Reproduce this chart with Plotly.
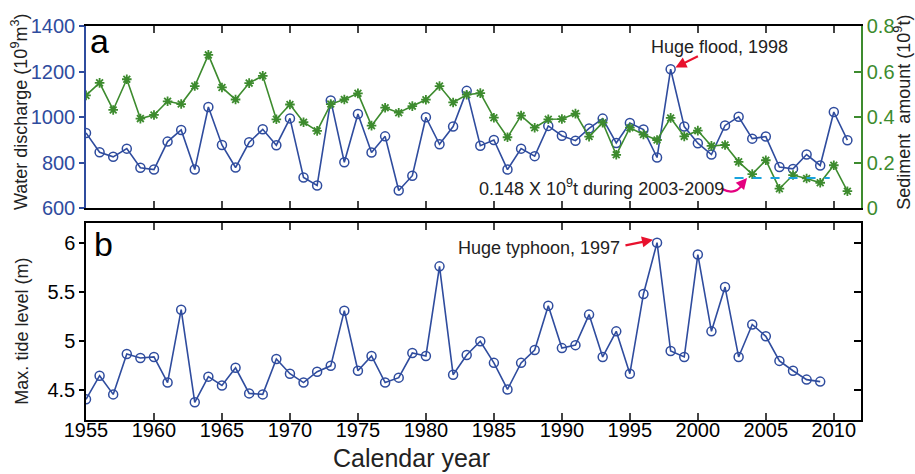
import plotly.graph_objects as go

years_a = list(range(1955, 2012))
discharge = [930, 845, 825, 861, 777, 769, 892, 943, 769, 1044,
             877, 778, 889, 946, 876, 994, 734, 699, 1073, 801,
             1013, 844, 915, 677, 742, 999, 880, 958, 1115, 874,
             899, 769, 861, 828, 961, 918, 896, 950, 993, 886,
             974, 945, 822, 1210, 958, 885, 835, 963, 1001, 905,
             914, 780, 772, 835, 787, 1022, 898]
sediment = [0.495, 0.550, 0.431, 0.566, 0.393, 0.409, 0.469, 0.457, 0.536, 0.673,
            0.530, 0.477, 0.549, 0.581, 0.390, 0.455, 0.377, 0.339, 0.457, 0.477,
            0.504, 0.362, 0.441, 0.419, 0.448, 0.476, 0.536, 0.464, 0.498, 0.505,
            0.397, 0.311, 0.406, 0.353, 0.390, 0.391, 0.415, 0.314, 0.375, 0.234,
            0.353, 0.323, 0.299, 0.396, 0.315, 0.340, 0.273, 0.277, 0.203, 0.149,
            0.210, 0.085, 0.145, 0.130, 0.111, 0.188, 0.074]

years_b = list(range(1955, 2010))
tide = [4.41, 4.65, 4.46, 4.87, 4.83, 4.84, 4.58, 5.32, 4.38, 4.64,
        4.55, 4.73, 4.47, 4.46, 4.82, 4.67, 4.58, 4.69, 4.75, 5.31,
        4.70, 4.85, 4.58, 4.63, 4.88, 4.85, 5.76, 4.66, 4.86, 5.00,
        4.78, 4.51, 4.78, 4.91, 5.36, 4.93, 4.96, 5.27, 4.84, 5.10,
        4.67, 5.48, 6.00, 4.90, 4.84, 5.88, 5.10, 5.55, 4.84, 5.17,
        5.05, 4.80, 4.70, 4.61, 4.59]

mean_years = [2002.7, 2009.7]
mean_level = [0.132, 0.132]

x_ticks = list(range(1955, 2011, 5))
left_a_ticks = [600, 800, 1000, 1200, 1400]
right_a_ticks = [0, 0.2, 0.4, 0.6, 0.8]
right_a_text = ["0", "0.2", "0.4", "0.6", "0.8"]
tide_ticks = [4.5, 5, 5.5, 6]
tide_text = ["4.5", "5", "5.5", "6"]

BLUE = "#2F4C9E"
GREEN = "#3D8B2E"
FONT = "Arial, Liberation Sans, sans-serif"
TICK = 20

fig = go.Figure()
fig.add_trace(go.Scatter(x=years_a, y=discharge, mode="lines+markers",
                         line=dict(color=BLUE, width=1.6),
                         marker=dict(symbol="circle-open", size=9, color=BLUE, line=dict(width=1.5, color=BLUE)),
                         xaxis="x", yaxis="y", showlegend=False))
fig.add_trace(go.Scatter(x=years_a, y=sediment, mode="lines+markers",
                         line=dict(color=GREEN, width=1.6),
                         marker=dict(symbol="asterisk-open", size=8, color=GREEN, line=dict(width=1.8, color=GREEN)),
                         xaxis="x", yaxis="y2", showlegend=False))
fig.add_trace(go.Scatter(x=mean_years, y=mean_level, mode="lines",
                         line=dict(color="#1AA3DD", width=2, dash="dash"),
                         xaxis="x", yaxis="y2", showlegend=False))
fig.add_trace(go.Scatter(x=years_b, y=tide, mode="lines+markers",
                         line=dict(color=BLUE, width=1.6),
                         marker=dict(symbol="circle-open", size=9, color=BLUE, line=dict(width=1.5, color=BLUE)),
                         xaxis="x2", yaxis="y3", showlegend=False))
# invisible trace to activate right axis in panel b
fig.add_trace(go.Scatter(x=[1955], y=[5], mode="markers", marker=dict(opacity=0),
                         xaxis="x2", yaxis="y4", showlegend=False, hoverinfo="skip"))

common_x = dict(range=[1955, 2012], tickvals=x_ticks, ticks="inside", ticklen=7, tickwidth=1.5,
                showline=True, linecolor="black", linewidth=1.5, mirror="ticks",
                showgrid=False, zeroline=False)

fig.update_layout(
    width=915, height=474,
    margin=dict(l=86, r=54, t=26, b=54),
    paper_bgcolor="white", plot_bgcolor="white",
    font=dict(family=FONT, size=TICK, color="black"),
    xaxis=dict(domain=[0, 1], anchor="y", showticklabels=False, **common_x),
    yaxis=dict(domain=[0.538, 1], range=[600, 1400], tickvals=left_a_ticks,
               ticks="outside", ticklen=5, tickwidth=1.5, tickcolor=BLUE,
               showline=True, linecolor=BLUE, linewidth=1.5,
               tickfont=dict(color=BLUE, size=TICK), showgrid=False, zeroline=False),
    yaxis2=dict(overlaying="y", side="right", anchor="x", range=[0, 0.8],
                tickvals=right_a_ticks, ticktext=right_a_text,
                ticks="inside", ticklen=7, tickwidth=1.5, tickcolor=GREEN,
                showline=True, linecolor=GREEN, linewidth=1.5,
                tickfont=dict(color=GREEN, size=TICK), showgrid=False, zeroline=False),
    xaxis2=dict(domain=[0, 1], anchor="y3", tickfont=dict(size=TICK, color="black"),
                ticklabelstandoff=-9, **common_x),
    yaxis3=dict(domain=[0, 0.5], anchor="x2", range=[4.2, 6.2], tickvals=tide_ticks, ticktext=tide_text,
                ticks="outside", ticklen=5, tickwidth=1.5, tickcolor="black",
                showline=True, linecolor="black", linewidth=1.5,
                tickfont=dict(size=TICK, color="black"), showgrid=False, zeroline=False),
    yaxis4=dict(overlaying="y3", side="right", anchor="x2", range=[4.2, 6.2], tickvals=tide_ticks,
                ticks="inside", ticklen=7, tickwidth=1.5, tickcolor="black", showticklabels=False,
                showline=True, linecolor="black", linewidth=1.5, showgrid=False, zeroline=False),
)

ann = []
ann.append(dict(text="a", xref="paper", yref="paper", x=0.018, y=0.962, showarrow=False,
                font=dict(size=34, color="black"), xanchor="center", yanchor="middle"))
ann.append(dict(text="b", xref="paper", yref="paper", x=0.022, y=0.447, showarrow=False,
                font=dict(size=34, color="black"), xanchor="center", yanchor="middle"))
ann.append(dict(text="Water discharge (10<sup>9</sup>m<sup>3</sup>)", xref="paper", yref="paper",
                x=-0.085, y=0.782, textangle=-90, showarrow=False, font=dict(size=18, color="#222"),
                xanchor="center", yanchor="middle"))
ann.append(dict(text="Sediment  amount (10<sup>9</sup>t)", xref="paper", yref="paper",
                x=1.054, y=0.782, textangle=-90, showarrow=False, font=dict(size=18, color="#222"),
                xanchor="center", yanchor="middle"))
ann.append(dict(text="Max. tide level (m)", xref="paper", yref="paper",
                x=-0.083, y=0.226, textangle=-90, showarrow=False, font=dict(size=18, color="#222"),
                xanchor="center", yanchor="middle"))
ann.append(dict(text="Calendar year", xref="paper", yref="paper", x=0.4206, y=-0.0964,
                showarrow=False, font=dict(size=25, color="#222"), xanchor="center", yanchor="middle"))
ann.append(dict(text="Huge flood, 1998", xref="x", yref="y", x=2001.6, y=1308, showarrow=False,
                font=dict(size=18, color="#222"), xanchor="center", yanchor="middle"))
ann.append(dict(text="", xref="x", yref="y", x=1998.35, y=1218, ax=24, ay=-12, showarrow=True,
                arrowhead=2, arrowsize=1, arrowwidth=2.2, arrowcolor="#E8112D"))
ann.append(dict(text="0.148 X 10<sup>9</sup>t during 2003-2009", xref="x", yref="y2", x=1992.9, y=0.092,
                showarrow=False, font=dict(size=18, color="#222"), xanchor="center", yanchor="middle"))
ann.append(dict(text="", xref="x", yref="y2", x=2003.62, y=0.132, ax=-6, ay=7, showarrow=True,
                arrowhead=2, arrowsize=1, arrowwidth=2.2, arrowcolor="#E4007F"))
ann.append(dict(text="Huge typhoon, 1997", xref="x2", yref="y3", x=1988.3, y=5.95, showarrow=False,
                font=dict(size=18, color="#222"), xanchor="center", yanchor="middle"))
ann.append(dict(text="", xref="x2", yref="y3", x=1996.7, y=6.03, ax=-29, ay=6, showarrow=True,
                arrowhead=2, arrowsize=1, arrowwidth=2.2, arrowcolor="#E8112D"))
fig.update_layout(annotations=ann)

fig.add_shape(type="path", xref="x", yref="y2",
              path="M 2001.79,0.0835 Q 2002.85,0.05 2003.42,0.118",
              line=dict(color="#E4007F", width=2.2))

fig.write_html("out.html", config={"displayModeBar": False},
               post_script="document.body.style.margin='0';document.body.style.padding='0';")
